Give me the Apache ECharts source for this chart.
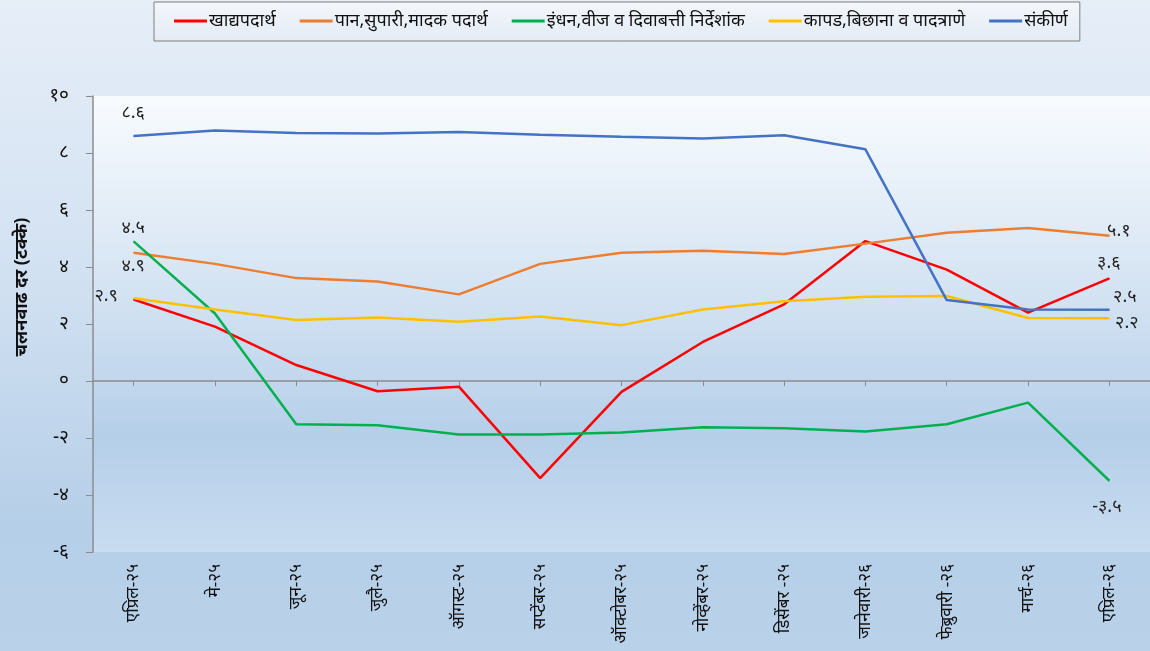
<!DOCTYPE html>
<html><head><meta charset="utf-8">
<script src="https://cdn.jsdelivr.net/npm/echarts@6/dist/echarts.min.js"></script>
<style>
html,body{margin:0;padding:0;}
#c{width:1150px;height:651px;background:linear-gradient(to bottom,#e6eef8 0%,#d3e2f2 40%,#b6cfe8 80%,#b9d2ea 100%);}
</style>
</head><body><div id="c"></div>
<script>
const categories = ['एप्रिल-२५','मे-२५','जून-२५','जुलै-२५','ऑगस्ट-२५','सप्टेंबर-२५','ऑक्टोबर-२५','नोव्हेंबर-२५','डिसेंबर -२५','जानेवारी-२६','फेब्रुवारी -२६','मार्च-२६','एप्रिल-२६'];
const seriesNames = ['खाद्यपदार्थ','पान,सुपारी,मादक पदार्थ','इंधन,वीज व दिवाबत्ती निर्देशांक','कापड,बिछाना व पादत्राणे','संकीर्ण'];
const food  = [2.86, 1.91, 0.56, -0.36, -0.20, -3.41, -0.38, 1.37, 2.69, 4.91, 3.91, 2.40, 3.6];
const paan  = [4.5, 4.11, 3.61, 3.49, 3.04, 4.11, 4.50, 4.57, 4.46, 4.82, 5.20, 5.37, 5.1];
const fuel  = [4.9, 2.37, -1.52, -1.55, -1.88, -1.88, -1.81, -1.62, -1.66, -1.77, -1.52, -0.76, -3.5];
const cloth = [2.9, 2.51, 2.14, 2.23, 2.08, 2.26, 1.96, 2.51, 2.80, 2.96, 2.98, 2.21, 2.2];
const misc  = [8.6, 8.79, 8.70, 8.68, 8.74, 8.64, 8.57, 8.51, 8.62, 8.13, 2.84, 2.51, 2.5];
const yMin = -6, yMax = 10, yStep = 2;
const yTitle = 'चलनवाढ दर (टक्के)';

const DEV = ['०','१','२','३','४','५','६','७','८','९'];
function toDev(s){ return String(s).replace(/[0-9]/g, d => DEV[+d]); }
const FONT = "'Noto Sans', 'Noto Sans Devanagari', 'Lohit Devanagari', sans-serif";

// label placement per series: {index: [dx, dy]}
const labelSpots = [
  {12: [0, -15]},
  {0: [0, -24], 12: [10, -4]},
  {0: [0, 25], 12: [-2, 27]},
  {0: [-27, -2], 12: [18, 5]},
  {0: [0, -23], 12: [16, -12]}
];
const colors = ['#ff0000','#ed7d31','#00b050','#ffc000','#4472c4'];
const values = [food, paan, fuel, cloth, misc];

function buildData(vals, spots){
  return vals.map((v,i) => spots[i] ? {
    value: v,
    label: {show: true, position: spots[i], align: 'center', verticalAlign: 'middle',
      formatter: p => toDev(p.value.toFixed(1)), fontSize: 18, color: '#222', fontFamily: FONT}
  } : v);
}

const chart = echarts.init(document.getElementById('c'));
chart.setOption({
  animation: false,
  color: colors,
  legend: {
    left: 154, top: 2, icon: 'rect', itemWidth: 33, itemHeight: 3, itemGap: 24,
    padding: [10, 12, 11, 20],
    backgroundColor: {type:'linear',x:0,y:0,x2:0,y2:1,colorStops:[{offset:0,color:'#f4f7fb'},{offset:1,color:'#e3ebf5'}]},
    borderColor: '#7f7f7f', borderWidth: 1,
    textStyle: {fontSize: 18, color: '#111', fontFamily: FONT, padding: [0,0,0,-3]},
    data: seriesNames
  },
  graphic: [{
    type: 'text', x: 22, y: 287, rotation: Math.PI/2,
    style: {text: yTitle, fontSize: 18, fontWeight: 'bold', fill: '#111', fontFamily: FONT, align: 'center', verticalAlign: 'middle'}
  }],
  grid: {
    left: 93, right: 0, top: 96, bottom: 99, show: true, borderWidth: 0,
    backgroundColor: {type:'linear',x:0,y:0,x2:0,y2:1,colorStops:[
      {offset:0,color:'#f8fbfe'},{offset:0.45,color:'#d2e2f2'},{offset:0.75,color:'#b5cfe9'},{offset:1,color:'#c9dcf0'}]}
  },
  xAxis: [{
    type: 'category', data: categories, boundaryGap: true,
    axisLine: {onZero: true, lineStyle: {color: '#8c8c8c', width: 1.5}},
    axisTick: {show: true, alignWithLabel: true, length: 5, lineStyle: {color: '#8c8c8c'}},
    axisLabel: {show: false}, splitLine: {show: false}
  },{
    type: 'category', data: categories, boundaryGap: true, position: 'bottom',
    axisLine: {show: false, onZero: false}, axisTick: {show: false},
    axisLabel: {rotate: 90, margin: 12, fontSize: 17, color: '#111', fontFamily: FONT},
    splitLine: {show: false}
  }],
  yAxis: {
    type: 'value', min: yMin, max: yMax, interval: yStep,
    axisLine: {show: true, lineStyle: {color: '#8c8c8c', width: 1.5}},
    axisTick: {show: true, length: 7, lineStyle: {color: '#8c8c8c'}},
    splitLine: {show: false},
    axisLabel: {margin: 24, fontSize: 19, color: '#111', fontFamily: FONT, formatter: v => toDev(v)}
  },
  series: values.map((vals, k) => ({
    name: seriesNames[k], type: 'line', xAxisIndex: 0,
    data: buildData(vals, labelSpots[k]),
    symbol: 'circle', symbolSize: 1, showSymbol: true, showAllSymbol: true,
    lineStyle: {width: 2.5, color: colors[k]}, itemStyle: {color: colors[k]},
    label: {show: false}, emphasis: {disabled: true}
  }))
});
</script></body></html>
